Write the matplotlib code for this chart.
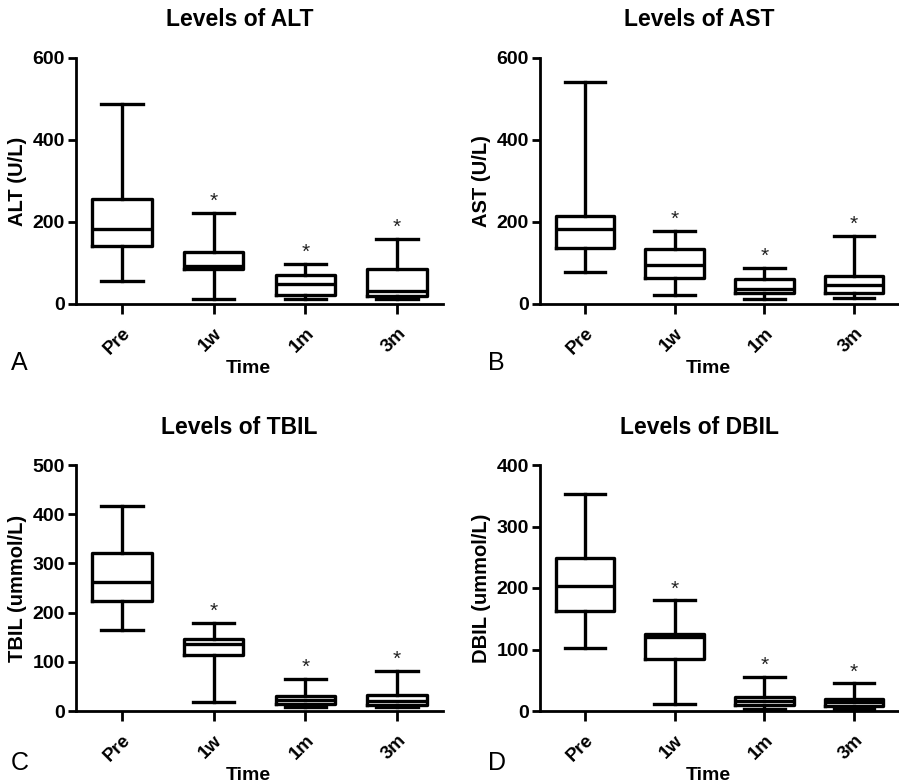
import matplotlib.pyplot as plt

plt.rcParams['font.family'] = ['Liberation Sans', 'DejaVu Sans']

groups = ['Pre', '1w', '1m', '3m']

# whisker low, Q1, median, Q3, whisker high
alt_low = [56, 11, 11, 13]
alt_q1 = [141, 85, 22, 20]
alt_med = [184, 93, 49, 32]
alt_q3 = [256, 126, 71, 86]
alt_high = [487, 223, 98, 159]

ast_low = [79, 22, 11, 15]
ast_q1 = [136, 64, 28, 28]
ast_med = [183, 95, 37, 46]
ast_q3 = [215, 135, 62, 68]
ast_high = [541, 179, 88, 167]

tbil_low = [165, 18, 8, 8]
tbil_q1 = [224, 113, 14, 12]
tbil_med = [262, 136, 22, 20]
tbil_q3 = [322, 147, 31, 32]
tbil_high = [416, 179, 65, 81]

dbil_low = [103, 11, 4, 3]
dbil_q1 = [163, 85, 9, 8]
dbil_med = [204, 120, 17, 14]
dbil_q3 = [249, 126, 23, 20]
dbil_high = [353, 180, 56, 45]

signif = [False, True, True, True]

panels = [
    ('Levels of ALT', 'ALT (U/L)', 'A', 600, 200,
     alt_low, alt_q1, alt_med, alt_q3, alt_high),
    ('Levels of AST', 'AST (U/L)', 'B', 600, 200,
     ast_low, ast_q1, ast_med, ast_q3, ast_high),
    ('Levels of TBIL', 'TBIL (ummol/L)', 'C', 500, 100,
     tbil_low, tbil_q1, tbil_med, tbil_q3, tbil_high),
    ('Levels of DBIL', 'DBIL (ummol/L)', 'D', 400, 100,
     dbil_low, dbil_q1, dbil_med, dbil_q3, dbil_high),
]

W, H = 899, 783
fig = plt.figure(figsize=(W / 100, H / 100), dpi=100)

# axes boxes in pixels: left, top, right, bottom
boxes = [(76, 58, 443, 304), (540, 58, 899, 304),
         (76, 465, 443, 711), (540, 465, 899, 711)]
letter_pos = [(11, 363), (488, 363), (11, 763), (488, 763)]

lw = 2.4
for (title, ylab, letter, ymax, ystep, lo, q1, med, q3, hi), (l, t, r, b), (lx, ly) in zip(panels, boxes, letter_pos):
    ax = fig.add_axes([l / W, 1 - b / H, (r - l) / W, (b - t) / H])
    stats = [dict(whislo=lo[i], q1=q1[i], med=med[i], q3=q3[i], whishi=hi[i], label=g)
             for i, g in enumerate(groups)]
    ax.bxp(stats, positions=range(len(groups)), widths=0.65, capwidths=0.45,
           showfliers=False,
           boxprops=dict(color='black', linewidth=lw),
           medianprops=dict(color='black', linewidth=lw),
           whiskerprops=dict(color='black', linewidth=lw),
           capprops=dict(color='black', linewidth=lw))
    for i, s in enumerate(signif):
        if s:
            ax.text(i, hi[i] + ymax * 0.008, '*', ha='center', va='bottom',
                    fontsize=15, color='#222222')
    ax.set_xlim(-0.5, 3.5)
    ax.set_ylim(0, ymax)
    ax.set_yticks(range(0, ymax + 1, ystep))
    ax.set_xticks(range(len(groups)))
    ax.set_xticklabels(groups, rotation=45, ha='right', va='top', rotation_mode='anchor',
                       fontsize=13.5, fontweight='bold')
    for lab in ax.get_yticklabels():
        lab.set_fontsize(14)
        lab.set_fontweight('bold')
    ax.spines['top'].set_visible(False)
    ax.spines['right'].set_visible(False)
    ax.spines['left'].set_linewidth(2)
    ax.spines['bottom'].set_linewidth(2)
    ax.spines['left'].set_clip_on(False)
    ax.tick_params(axis='y', width=2, length=6, direction='out', pad=2)
    ax.tick_params(axis='x', width=2, length=7, direction='out', pad=8)
    ax.set_ylabel(ylab, fontsize=14.5, fontweight='bold', labelpad=4)
    ax.set_xlabel('Time', fontsize=14, fontweight='bold')
    ax.xaxis.set_label_coords(0.47, -0.226)
    fig.text((l + r) / 2 / W - 20 / W, 1 - (t - 38) / H, title, ha='center', va='center',
             fontsize=16.5, fontweight='bold')
    fig.text(lx / W, 1 - ly / H, letter, ha='left', va='center', fontsize=18)

fig.savefig('out.png', dpi=100)
